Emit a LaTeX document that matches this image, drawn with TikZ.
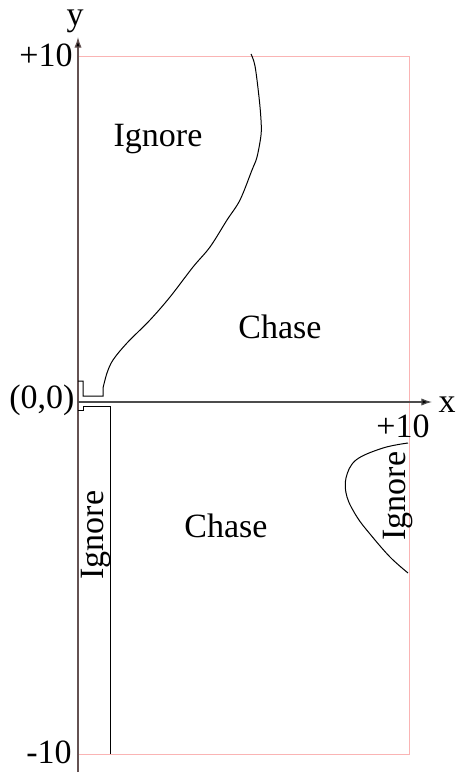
\documentclass[tikz,border=0pt]{standalone}
\usepackage{fontspec}
\setmainfont{Liberation Serif}
\usepackage{tikz}
\usetikzlibrary{arrows.meta}
\definecolor{axisgray}{RGB}{100,82,82}
\definecolor{fieldpink}{RGB}{250,180,180}

\begin{document}
\begin{tikzpicture}[x=0.75pt, y=-0.75pt,
  lbl/.style={font=\fontsize{25.5}{28}\selectfont, inner sep=0pt, anchor=base},
  axis/.style={draw=axisgray, line width=0.9pt, -{Latex[length=8pt, width=5.5pt, fill=black]}},
  field/.style={draw=fieldpink, line width=0.6pt},
  border/.style={draw=black, line width=0.75pt}]

  \useasboundingbox (0,0) rectangle (458,774);

  % playing field
  \draw[field] (78,56) rectangle (409,754);

  % axes
  \coordinate (yfoot) at (78,772);
  \coordinate (ytip)  at (78,37);
  \coordinate (orig)  at (78,402);
  \coordinate (xtip)  at (432,402);
  \draw[axis] (yfoot) -- (ytip);
  \draw[axis, draw=black!70] (orig) -- (xtip);

  \node[lbl] (ylab)   at (75,26)   {y};
  \node[lbl] (ytop)   at (46,67)   {+10};
  \node[lbl] (origin) at (42,408)  {(0,0)};
  \node[lbl] (xlab)   at (447,412) {x};
  \node[lbl] (xend)   at (403,437) {+10};
  \node[lbl] (ybot)   at (49,763)  {-10};

  % region borders
  \draw[border] (78,381) -- (83,381) -- (83,396) -- (103,396) -- (103,388)
    -- plot[smooth, tension=0.55] coordinates {(103,388) (107,373) (113,360) (127,343)
      (150,320) (170,297) (193,267) (210,247) (227,220) (240,200) (252,170)
      (257,157) (261,135) (261,120) (259,97) (255,66) (251,54)};
  \draw[border] (78,410) -- (83,410) -- (83,406) -- (110,406) -- (110,754);
  \draw[border] plot[smooth, tension=0.6] coordinates {(408,443) (383,448) (356,460)
    (346,478) (347,497) (357,517) (370,534) (390,557) (408,573)};

  \node[lbl] (ignoreup)    at (158,146) {Ignore};
  \node[lbl] (chaseup)     at (280,338) {Chase};
  \node[lbl] (chasedown)   at (226,537) {Chase};
  \node[lbl, rotate=90] (ignoreleft)  at (103,535) {Ignore};
  \node[lbl, rotate=90] (ignoreright) at (405,496) {Ignore};
\end{tikzpicture}
\end{document}
